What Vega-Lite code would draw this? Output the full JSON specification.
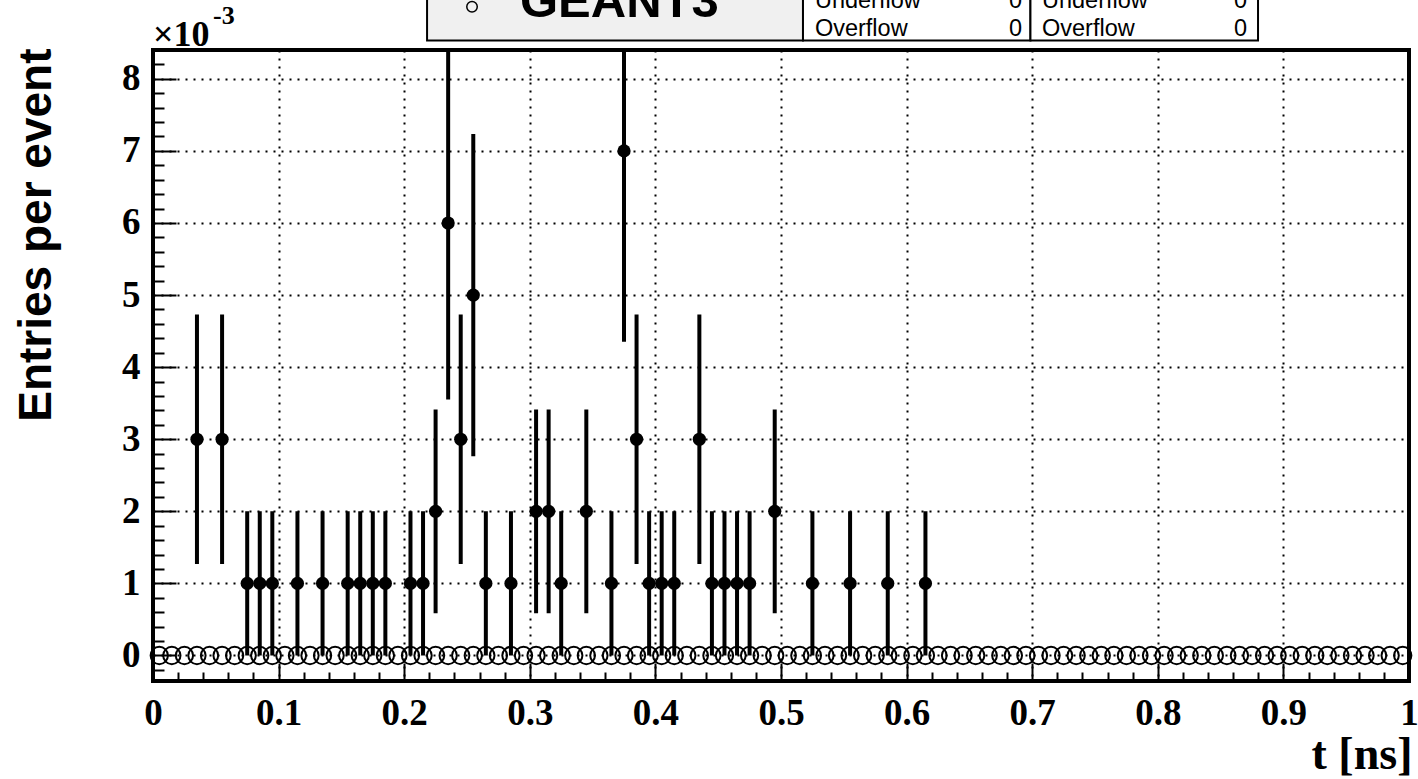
{
  "$schema": "https://vega.github.io/schema/vega-lite/v6.json",
  "width": 1256,
  "height": 631,
  "autosize": {"type": "none"},
  "padding": {"left": 153, "top": 50, "right": 9, "bottom": 98},
  "background": "white",
  "config": {
    "view": {"stroke": "black", "strokeWidth": 4},
    "axis": {"labelColor": "black", "tickColor": "black", "titleColor": "black"}
  },
  "datasets": {
    "g3": [
      {"t":0.005,"v":0},{"t":0.015,"v":0},{"t":0.025,"v":0},{"t":0.035,"v":0},{"t":0.045,"v":0},{"t":0.055,"v":0},{"t":0.065,"v":0},{"t":0.075,"v":0},{"t":0.085,"v":0},{"t":0.095,"v":0},
      {"t":0.105,"v":0},{"t":0.115,"v":0},{"t":0.125,"v":0},{"t":0.135,"v":0},{"t":0.145,"v":0},{"t":0.155,"v":0},{"t":0.165,"v":0},{"t":0.175,"v":0},{"t":0.185,"v":0},{"t":0.195,"v":0},
      {"t":0.205,"v":0},{"t":0.215,"v":0},{"t":0.225,"v":0},{"t":0.235,"v":0},{"t":0.245,"v":0},{"t":0.255,"v":0},{"t":0.265,"v":0},{"t":0.275,"v":0},{"t":0.285,"v":0},{"t":0.295,"v":0},
      {"t":0.305,"v":0},{"t":0.315,"v":0},{"t":0.325,"v":0},{"t":0.335,"v":0},{"t":0.345,"v":0},{"t":0.355,"v":0},{"t":0.365,"v":0},{"t":0.375,"v":0},{"t":0.385,"v":0},{"t":0.395,"v":0},
      {"t":0.405,"v":0},{"t":0.415,"v":0},{"t":0.425,"v":0},{"t":0.435,"v":0},{"t":0.445,"v":0},{"t":0.455,"v":0},{"t":0.465,"v":0},{"t":0.475,"v":0},{"t":0.485,"v":0},{"t":0.495,"v":0},
      {"t":0.505,"v":0},{"t":0.515,"v":0},{"t":0.525,"v":0},{"t":0.535,"v":0},{"t":0.545,"v":0},{"t":0.555,"v":0},{"t":0.565,"v":0},{"t":0.575,"v":0},{"t":0.585,"v":0},{"t":0.595,"v":0},
      {"t":0.605,"v":0},{"t":0.615,"v":0},{"t":0.625,"v":0},{"t":0.635,"v":0},{"t":0.645,"v":0},{"t":0.655,"v":0},{"t":0.665,"v":0},{"t":0.675,"v":0},{"t":0.685,"v":0},{"t":0.695,"v":0},
      {"t":0.705,"v":0},{"t":0.715,"v":0},{"t":0.725,"v":0},{"t":0.735,"v":0},{"t":0.745,"v":0},{"t":0.755,"v":0},{"t":0.765,"v":0},{"t":0.775,"v":0},{"t":0.785,"v":0},{"t":0.795,"v":0},
      {"t":0.805,"v":0},{"t":0.815,"v":0},{"t":0.825,"v":0},{"t":0.835,"v":0},{"t":0.845,"v":0},{"t":0.855,"v":0},{"t":0.865,"v":0},{"t":0.875,"v":0},{"t":0.885,"v":0},{"t":0.895,"v":0},
      {"t":0.905,"v":0},{"t":0.915,"v":0},{"t":0.925,"v":0},{"t":0.935,"v":0},{"t":0.945,"v":0},{"t":0.955,"v":0},{"t":0.965,"v":0},{"t":0.975,"v":0},{"t":0.985,"v":0},{"t":0.995,"v":0}
    ],
    "g4": [
      {"t":0.035,"n":3,"lo":1.268,"hi":4.732},
      {"t":0.055,"n":3,"lo":1.268,"hi":4.732},
      {"t":0.075,"n":1,"lo":0,"hi":2},
      {"t":0.085,"n":1,"lo":0,"hi":2},
      {"t":0.095,"n":1,"lo":0,"hi":2},
      {"t":0.115,"n":1,"lo":0,"hi":2},
      {"t":0.135,"n":1,"lo":0,"hi":2},
      {"t":0.155,"n":1,"lo":0,"hi":2},
      {"t":0.165,"n":1,"lo":0,"hi":2},
      {"t":0.175,"n":1,"lo":0,"hi":2},
      {"t":0.185,"n":1,"lo":0,"hi":2},
      {"t":0.205,"n":1,"lo":0,"hi":2},
      {"t":0.215,"n":1,"lo":0,"hi":2},
      {"t":0.225,"n":2,"lo":0.586,"hi":3.414},
      {"t":0.235,"n":6,"lo":3.551,"hi":8.449},
      {"t":0.245,"n":3,"lo":1.268,"hi":4.732},
      {"t":0.255,"n":5,"lo":2.764,"hi":7.236},
      {"t":0.265,"n":1,"lo":0,"hi":2},
      {"t":0.285,"n":1,"lo":0,"hi":2},
      {"t":0.305,"n":2,"lo":0.586,"hi":3.414},
      {"t":0.315,"n":2,"lo":0.586,"hi":3.414},
      {"t":0.325,"n":1,"lo":0,"hi":2},
      {"t":0.345,"n":2,"lo":0.586,"hi":3.414},
      {"t":0.365,"n":1,"lo":0,"hi":2},
      {"t":0.375,"n":7,"lo":4.354,"hi":9.646},
      {"t":0.385,"n":3,"lo":1.268,"hi":4.732},
      {"t":0.395,"n":1,"lo":0,"hi":2},
      {"t":0.405,"n":1,"lo":0,"hi":2},
      {"t":0.415,"n":1,"lo":0,"hi":2},
      {"t":0.435,"n":3,"lo":1.268,"hi":4.732},
      {"t":0.445,"n":1,"lo":0,"hi":2},
      {"t":0.455,"n":1,"lo":0,"hi":2},
      {"t":0.465,"n":1,"lo":0,"hi":2},
      {"t":0.475,"n":1,"lo":0,"hi":2},
      {"t":0.495,"n":2,"lo":0.586,"hi":3.414},
      {"t":0.525,"n":1,"lo":0,"hi":2},
      {"t":0.555,"n":1,"lo":0,"hi":2},
      {"t":0.585,"n":1,"lo":0,"hi":2},
      {"t":0.615,"n":1,"lo":0,"hi":2}
    ],
    "one": [{}]
  },
  "resolve": {"axis": {"x": "independent", "y": "independent"}},
  "layer": [
    {
      "data": {"name": "g3"},
      "mark": {"type": "point", "shape": "circle", "filled": false, "size": 300, "strokeWidth": 2, "color": "black", "opacity": 1, "clip": false},
      "encoding": {
        "x": {
          "field": "t", "type": "quantitative",
          "scale": {"domain": [0, 1], "nice": false, "zero": false},
          "axis": {
            "orient": "bottom",
            "values": [0, 0.1, 0.2, 0.3, 0.4, 0.5, 0.6, 0.7, 0.8, 0.9, 1],
            "format": "~g",
            "domain": false, "ticks": false,
            "grid": true, "gridColor": "black", "gridDash": [2, 6], "gridWidth": 2, "gridOpacity": 1,
            "labelFont": "Liberation Serif", "labelFontWeight": "bold", "labelFontSize": 37,
            "labelPadding": 14, "labelFlush": false, "labelOverlap": false,
            "title": "t [ns]",
            "titleFont": "Liberation Serif", "titleFontWeight": "bold", "titleFontSize": 46,
            "titleX": 1259, "titleY": 87, "titleAlign": "right", "titleBaseline": "alphabetic"
          }
        },
        "y": {
          "field": "v", "type": "quantitative",
          "scale": {"domain": [-0.354, 8.4], "nice": false, "zero": false},
          "axis": {
            "orient": "left",
            "values": [0, 1, 2, 3, 4, 5, 6, 7, 8],
            "format": "~g",
            "domain": false, "ticks": false,
            "grid": true, "gridColor": "black", "gridDash": [2, 6], "gridWidth": 2, "gridOpacity": 1,
            "labelFont": "Liberation Serif", "labelFontWeight": "bold", "labelFontSize": 37,
            "labelPadding": 13, "labelFlush": false, "labelOverlap": false,
            "title": "Entries per event",
            "titleFont": "Liberation Sans", "titleFontWeight": "bold", "titleFontSize": 46,
            "titleAngle": -90, "titleX": -103, "titleY": -2, "titleAlign": "right", "titleBaseline": "alphabetic"
          }
        }
      }
    },
    {
      "data": {"name": "g4"},
      "mark": {"type": "rule", "color": "black", "strokeWidth": 4, "clip": true},
      "encoding": {
        "x": {
          "field": "t", "type": "quantitative",
          "scale": {"domain": [0, 1], "nice": false, "zero": false},
          "axis": {
            "orient": "bottom",
            "values": [0.1, 0.2, 0.3, 0.4, 0.5, 0.6, 0.7, 0.8, 0.9],
            "domain": false, "labels": false, "grid": false, "ticks": true,
            "tickSize": 18, "tickWidth": 2, "tickColor": "black", "offset": -18, "title": null
          }
        },
        "y": {
          "field": "lo", "type": "quantitative",
          "scale": {"domain": [-0.354, 8.4], "nice": false, "zero": false},
          "axis": {
            "orient": "left",
            "values": [0, 1, 2, 3, 4, 5, 6, 7, 8],
            "domain": false, "labels": false, "grid": false, "ticks": true,
            "tickSize": 23, "tickWidth": 2, "tickColor": "black", "offset": -23, "title": null
          }
        },
        "y2": {"field": "hi"}
      }
    },
    {
      "data": {"name": "g4"},
      "mark": {"type": "point", "shape": "circle", "filled": true, "size": 175, "color": "black", "opacity": 1, "clip": true},
      "encoding": {
        "x": {
          "field": "t", "type": "quantitative",
          "scale": {"domain": [0, 1], "nice": false, "zero": false},
          "axis": {
            "orient": "bottom",
            "values": [0.02,0.04,0.06,0.08,0.12,0.14,0.16,0.18,0.22,0.24,0.26,0.28,0.32,0.34,0.36,0.38,0.42,0.44,0.46,0.48,0.52,0.54,0.56,0.58,0.62,0.64,0.66,0.68,0.72,0.74,0.76,0.78,0.82,0.84,0.86,0.88,0.92,0.94,0.96,0.98],
            "domain": false, "labels": false, "grid": false, "ticks": true,
            "tickSize": 9, "tickWidth": 2, "tickColor": "black", "offset": -9, "title": null
          }
        },
        "y": {
          "field": "n", "type": "quantitative",
          "scale": {"domain": [-0.354, 8.4], "nice": false, "zero": false},
          "axis": {
            "orient": "left",
            "values": [-0.2,0.2,0.4,0.6,0.8,1.2,1.4,1.6,1.8,2.2,2.4,2.6,2.8,3.2,3.4,3.6,3.8,4.2,4.4,4.6,4.8,5.2,5.4,5.6,5.8,6.2,6.4,6.6,6.8,7.2,7.4,7.6,7.8,8.2],
            "domain": false, "labels": false, "grid": false, "ticks": true,
            "tickSize": 11, "tickWidth": 2, "tickColor": "black", "offset": -11, "title": null
          }
        }
      }
    },
    {
      "data": {"name": "one"},
      "mark": {"type": "rect", "fill": "#f0f0f0", "stroke": "black", "strokeWidth": 2, "clip": false},
      "encoding": {
        "x": {"datum": 0.2182, "type": "quantitative", "scale": {"domain": [0, 1], "nice": false, "zero": false}, "axis": null},
        "x2": {"datum": 0.5175},
        "y": {"datum": 8.532, "type": "quantitative", "scale": {"domain": [-0.354, 8.4], "nice": false, "zero": false}, "axis": null},
        "y2": {"datum": 9.8}
      }
    },
    {
      "data": {"name": "one"},
      "mark": {"type": "rect", "fill": "white", "stroke": "black", "strokeWidth": 2, "clip": false},
      "encoding": {
        "x": {"datum": 0.5175, "type": "quantitative", "scale": {"domain": [0, 1], "nice": false, "zero": false}, "axis": null},
        "x2": {"datum": 0.6986},
        "y": {"datum": 8.532, "type": "quantitative", "scale": {"domain": [-0.354, 8.4], "nice": false, "zero": false}, "axis": null},
        "y2": {"datum": 9.8}
      }
    },
    {
      "data": {"name": "one"},
      "mark": {"type": "rect", "fill": "white", "stroke": "black", "strokeWidth": 2, "clip": false},
      "encoding": {
        "x": {"datum": 0.6986, "type": "quantitative", "scale": {"domain": [0, 1], "nice": false, "zero": false}, "axis": null},
        "x2": {"datum": 0.8798},
        "y": {"datum": 8.532, "type": "quantitative", "scale": {"domain": [-0.354, 8.4], "nice": false, "zero": false}, "axis": null},
        "y2": {"datum": 9.8}
      }
    },
    {
      "data": {"name": "one"},
      "mark": {"type": "point", "shape": "circle", "filled": false, "size": 110, "strokeWidth": 1.5, "color": "black", "opacity": 1, "clip": false},
      "encoding": {
        "x": {"datum": 0.254, "type": "quantitative", "scale": {"domain": [0, 1], "nice": false, "zero": false}, "axis": null},
        "y": {"datum": 9.0, "type": "quantitative", "scale": {"domain": [-0.354, 8.4], "nice": false, "zero": false}, "axis": null}
      }
    },
    {
      "data": {"name": "one"},
      "mark": {"type": "text", "text": "GEANT3", "font": "Liberation Sans", "fontWeight": "bold", "fontSize": 49, "align": "left", "baseline": "alphabetic", "color": "black", "clip": false},
      "encoding": {
        "x": {"datum": 0.2922, "type": "quantitative", "scale": {"domain": [0, 1], "nice": false, "zero": false}, "axis": null},
        "y": {"datum": 8.861, "type": "quantitative", "scale": {"domain": [-0.354, 8.4], "nice": false, "zero": false}, "axis": null}
      }
    },
    {
      "data": {"name": "one"},
      "mark": {"type": "text", "text": ["Underflow", "Overflow"], "lineHeight": 28, "font": "Liberation Sans", "fontSize": 23.5, "align": "left", "baseline": "alphabetic", "color": "black", "clip": false},
      "encoding": {
        "x": {"datum": 0.527, "type": "quantitative", "scale": {"domain": [0, 1], "nice": false, "zero": false}, "axis": null},
        "y": {"datum": 8.979, "type": "quantitative", "scale": {"domain": [-0.354, 8.4], "nice": false, "zero": false}, "axis": null}
      }
    },
    {
      "data": {"name": "one"},
      "mark": {"type": "text", "text": ["0", "0"], "lineHeight": 28, "font": "Liberation Sans", "fontSize": 23.5, "align": "right", "baseline": "alphabetic", "color": "black", "clip": false},
      "encoding": {
        "x": {"datum": 0.6919, "type": "quantitative", "scale": {"domain": [0, 1], "nice": false, "zero": false}, "axis": null},
        "y": {"datum": 8.979, "type": "quantitative", "scale": {"domain": [-0.354, 8.4], "nice": false, "zero": false}, "axis": null}
      }
    },
    {
      "data": {"name": "one"},
      "mark": {"type": "text", "text": ["Underflow", "Overflow"], "lineHeight": 28, "font": "Liberation Sans", "fontSize": 23.5, "align": "left", "baseline": "alphabetic", "color": "black", "clip": false},
      "encoding": {
        "x": {"datum": 0.7078, "type": "quantitative", "scale": {"domain": [0, 1], "nice": false, "zero": false}, "axis": null},
        "y": {"datum": 8.979, "type": "quantitative", "scale": {"domain": [-0.354, 8.4], "nice": false, "zero": false}, "axis": null}
      }
    },
    {
      "data": {"name": "one"},
      "mark": {"type": "text", "text": ["0", "0"], "lineHeight": 28, "font": "Liberation Sans", "fontSize": 23.5, "align": "right", "baseline": "alphabetic", "color": "black", "clip": false},
      "encoding": {
        "x": {"datum": 0.871, "type": "quantitative", "scale": {"domain": [0, 1], "nice": false, "zero": false}, "axis": null},
        "y": {"datum": 8.979, "type": "quantitative", "scale": {"domain": [-0.354, 8.4], "nice": false, "zero": false}, "axis": null}
      }
    },
    {
      "data": {"name": "one"},
      "mark": {"type": "text", "text": "×10", "font": "Liberation Serif", "fontWeight": "bold", "fontSize": 36, "align": "left", "baseline": "alphabetic", "color": "black", "clip": false},
      "encoding": {
        "x": {"datum": 0, "type": "quantitative", "scale": {"domain": [0, 1], "nice": false, "zero": false}, "axis": null},
        "y": {"datum": 8.458, "type": "quantitative", "scale": {"domain": [-0.354, 8.4], "nice": false, "zero": false}, "axis": null}
      }
    },
    {
      "data": {"name": "one"},
      "mark": {"type": "text", "text": "-3", "font": "Liberation Serif", "fontWeight": "bold", "fontSize": 26, "align": "left", "baseline": "alphabetic", "color": "black", "clip": false},
      "encoding": {
        "x": {"datum": 0.0478, "type": "quantitative", "scale": {"domain": [0, 1], "nice": false, "zero": false}, "axis": null},
        "y": {"datum": 8.764, "type": "quantitative", "scale": {"domain": [-0.354, 8.4], "nice": false, "zero": false}, "axis": null}
      }
    }
  ]
}
